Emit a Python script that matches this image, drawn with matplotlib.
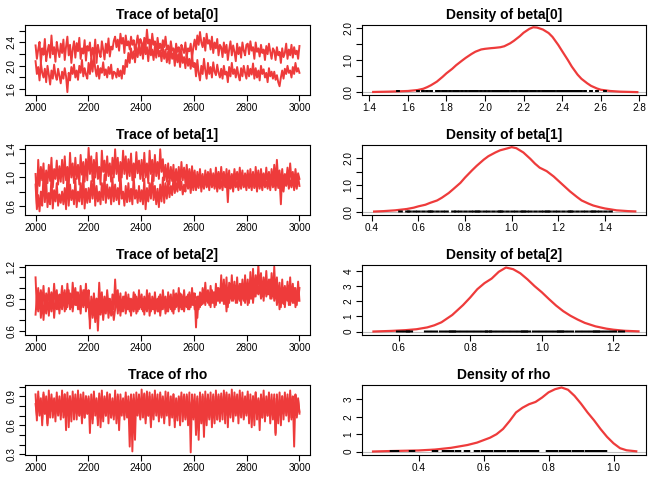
import numpy as np
import matplotlib
matplotlib.use("Agg")
import matplotlib.pyplot as plt

plt.rcParams['font.family'] = ['Liberation Sans', 'DejaVu Sans']

names = ["beta[0]", "beta[1]", "beta[2]", "rho"]

# trace samples in hundredths, two chains per parameter, every 5th iteration (2000..3000)
beta0_a = [235, 212, 228, 241, 205, 230, 219, 246, 208, 225, 236, 214, 252, 220, 232, 207, 241, 226, 215, 238,
           222, 245, 210, 233, 250, 218, 236, 205, 228, 242, 214, 239, 225, 248, 212, 230, 221, 244, 209, 234,
           226, 240, 212, 231, 218, 245, 205, 236, 224, 215, 242, 228, 211, 238, 222, 247, 216, 233, 228, 243,
           250, 232, 245, 226, 255, 238, 248, 222, 252, 235, 242, 228, 250, 236, 244, 225, 238, 252, 230, 246,
           240, 226, 248, 232, 262, 238, 245, 228, 255, 236, 242, 222, 248, 230, 238, 226, 244, 232, 250, 228,
           235, 218, 242, 226, 230, 212, 238, 224, 232, 210, 236, 228, 222, 240, 215, 230, 225, 238, 212, 232,
           245, 228, 252, 236, 258, 240, 232, 248, 226, 255, 238, 244, 228, 250, 222, 240, 230, 246, 218, 236,
           232, 215, 240, 222, 236, 210, 228, 242, 218, 235, 224, 208, 238, 220, 232, 214, 240, 226, 218, 236,
           238, 220, 242, 226, 232, 212, 240, 224, 230, 216, 236, 222, 228, 210, 234, 220, 238, 224, 212, 230,
           226, 210, 232, 218, 224, 205, 230, 215, 222, 238, 212, 228, 218, 236, 214, 232, 220, 226, 212, 234]
beta0_b = [208, 186, 198, 175, 205, 188, 180, 195, 172, 200, 185, 168, 192, 178, 202, 184, 176, 195, 182, 170,
           190, 178, 196, 182, 155, 188, 175, 198, 186, 202, 180, 192, 176, 200, 188, 210, 182, 196, 185, 178,
           205, 186, 212, 190, 218, 195, 182, 200, 178, 196, 188, 206, 184, 194, 180, 198, 186, 202, 178, 190,
           188, 180, 195, 182, 192, 178, 200, 186, 210, 198, 222, 205, 230, 212, 225, 206, 232, 215, 236, 218,
           235, 212, 240, 220, 232, 208, 236, 218, 228, 210, 234, 214, 238, 216, 226, 208, 232, 212, 228, 206,
           225, 204, 230, 212, 222, 200, 228, 206, 220, 198, 224, 205, 215, 196, 222, 200, 212, 195, 218, 198,
           205, 182, 210, 188, 175, 200, 186, 212, 192, 178, 205, 186, 198, 180, 206, 190, 184, 202, 188, 180,
           195, 178, 200, 185, 190, 172, 198, 182, 205, 186, 194, 180, 198, 184, 175, 196, 182, 200, 188, 178,
           200, 182, 195, 185, 204, 178, 196, 180, 192, 175, 200, 186, 194, 180, 188, 172, 196, 182, 190, 178,
           190, 176, 184, 172, 165, 180, 192, 178, 195, 186, 200, 188, 192, 180, 198, 186, 205, 190, 196, 188]

beta1_a = [105, 62, 125, 88, 115, 96, 120, 82, 110, 92, 118, 95, 128, 86, 112, 98, 124, 90, 116, 94,
           125, 92, 130, 96, 115, 86, 135, 100, 120, 92, 128, 98, 118, 90, 132, 104, 122, 94, 126, 96,
           142, 105, 130, 95, 125, 100, 135, 98, 115, 90, 138, 108, 124, 96, 130, 102, 120, 94, 128, 100,
           140, 105, 128, 95, 122, 100, 138, 105, 130, 98, 126, 102, 134, 96, 120, 100, 136, 106, 124, 98,
           125, 95, 135, 100, 120, 92, 138, 105, 125, 95, 132, 102, 122, 98, 140, 108, 126, 96, 118, 94,
           120, 90, 115, 95, 118, 88, 112, 92, 115, 90, 122, 96, 114, 92, 118, 94, 112, 90, 116, 92,
           110, 85, 108, 90, 112, 88, 105, 85, 110, 92, 108, 94, 112, 90, 106, 88, 114, 92, 108, 90,
           115, 92, 108, 88, 112, 90, 110, 86, 105, 92, 112, 94, 108, 90, 114, 92, 110, 88, 106, 94,
           110, 88, 112, 90, 108, 85, 115, 92, 110, 88, 112, 94, 106, 90, 114, 92, 108, 88, 112, 90,
           118, 90, 125, 95, 110, 88, 112, 90, 105, 95, 114, 92, 120, 96, 108, 90, 112, 94, 106, 98]
beta1_b = [90, 55, 75, 52, 80, 60, 105, 65, 95, 58, 78, 62, 102, 56, 82, 66, 92, 60, 76, 64,
           80, 62, 85, 55, 104, 60, 90, 68, 82, 62, 98, 58, 80, 66, 92, 62, 106, 56, 84, 64,
           85, 65, 95, 70, 102, 60, 88, 66, 80, 62, 92, 68, 104, 64, 90, 70, 86, 62, 100, 66,
           90, 68, 85, 62, 108, 70, 80, 60, 88, 65, 92, 66, 84, 62, 102, 70, 82, 64, 88, 66,
           82, 62, 98, 55, 85, 66, 92, 70, 104, 68, 88, 62, 84, 58, 90, 66, 100, 64, 92, 70,
           95, 72, 88, 75, 100, 78, 92, 80, 98, 82, 94, 76, 90, 80, 102, 84, 96, 78, 100, 82,
           100, 82, 95, 85, 105, 80, 98, 84, 102, 86, 96, 82, 104, 86, 98, 84, 100, 80, 96, 84,
           95, 82, 100, 86, 98, 65, 102, 84, 96, 80, 100, 86, 94, 82, 98, 84, 102, 86, 96, 82,
           100, 85, 95, 82, 105, 86, 98, 80, 102, 84, 96, 82, 100, 86, 94, 84, 98, 82, 104, 86,
           96, 82, 100, 85, 98, 62, 105, 80, 98, 88, 102, 84, 96, 86, 100, 82, 98, 84, 102, 88]

beta2_a = [110, 80, 100, 82, 98, 85, 102, 80, 95, 85, 100, 84, 96, 82, 104, 86, 98, 80, 94, 88,
           102, 84, 98, 80, 104, 86, 95, 82, 105, 88, 100, 84, 96, 80, 102, 86, 98, 84, 104, 82,
           98, 62, 92, 78, 95, 80, 90, 75, 105, 82, 96, 78, 92, 80, 98, 84, 90, 76, 94, 80,
           108, 85, 98, 80, 95, 78, 92, 82, 96, 80, 94, 78, 90, 82, 96, 80, 92, 78, 98, 82,
           94, 78, 92, 80, 98, 82, 95, 78, 92, 80, 96, 82, 90, 78, 94, 80, 98, 84, 92, 78,
           96, 82, 94, 78, 98, 80, 95, 84, 100, 82, 94, 80, 98, 84, 92, 80, 96, 82, 100, 84,
           95, 63, 92, 80, 96, 84, 100, 86, 105, 88, 98, 84, 102, 86, 96, 82, 104, 88, 100, 86,
           112, 88, 108, 85, 110, 82, 105, 90, 112, 88, 106, 86, 110, 90, 104, 84, 108, 88, 112, 90,
           108, 86, 115, 90, 118, 92, 112, 95, 122, 98, 114, 92, 110, 96, 116, 94, 108, 90, 114, 92,
           120, 92, 110, 88, 105, 82, 108, 85, 102, 90, 106, 84, 110, 88, 104, 86, 100, 84, 106, 88]
beta2_b = [75, 92, 78, 95, 72, 90, 70, 88, 76, 92, 74, 90, 78, 94, 72, 88, 80, 92, 76, 90,
           80, 95, 78, 92, 82, 98, 80, 94, 78, 90, 84, 96, 80, 92, 76, 94, 82, 98, 78, 92,
           82, 70, 88, 72, 85, 68, 90, 60, 85, 75, 88, 70, 84, 76, 90, 72, 86, 74, 82, 70,
           80, 92, 76, 90, 74, 88, 78, 92, 76, 86, 80, 90, 74, 88, 78, 94, 76, 88, 80, 90,
           80, 90, 75, 88, 78, 92, 74, 86, 80, 90, 76, 88, 78, 92, 74, 86, 80, 90, 76, 88,
           78, 92, 80, 88, 76, 94, 82, 90, 78, 95, 80, 92, 78, 88, 82, 94, 80, 90, 84, 95,
           80, 88, 72, 92, 82, 95, 85, 98, 84, 96, 86, 94, 82, 98, 86, 96, 84, 100, 88, 96,
           88, 102, 85, 98, 78, 100, 86, 104, 88, 100, 90, 102, 86, 98, 88, 104, 90, 100, 86, 102,
           84, 102, 90, 105, 86, 100, 92, 108, 94, 102, 90, 104, 88, 106, 92, 100, 94, 108, 90, 104,
           88, 100, 84, 98, 80, 95, 86, 100, 82, 96, 88, 102, 84, 98, 86, 100, 82, 96, 88, 100]

rho_a = [92, 65, 95, 70, 88, 60, 94, 72, 90, 62, 96, 68, 92, 74, 88, 64, 94, 70, 90, 66,
         96, 68, 92, 55, 94, 70, 90, 64, 95, 72, 92, 66, 96, 70, 88, 62, 94, 68, 90, 72,
         90, 52, 92, 66, 95, 70, 88, 60, 93, 68, 96, 64, 90, 70, 94, 62, 92, 68, 88, 66,
         96, 62, 90, 55, 92, 70, 88, 66, 94, 68, 90, 64, 92, 33, 88, 45, 94, 70, 92, 66,
         97, 68, 93, 62, 95, 70, 90, 58, 92, 66, 96, 70, 92, 64, 94, 68, 90, 62, 95, 70,
         94, 60, 90, 68, 92, 58, 88, 65, 90, 70, 94, 64, 92, 66, 90, 60, 94, 32, 92, 68,
         92, 50, 88, 45, 94, 62, 90, 48, 95, 60, 92, 66, 94, 58, 90, 62, 96, 66, 92, 64,
         93, 66, 96, 70, 94, 58, 92, 68, 97, 64, 94, 70, 92, 62, 96, 68, 94, 66, 90, 70,
         95, 62, 92, 66, 90, 60, 94, 70, 88, 55, 92, 68, 96, 64, 90, 70, 94, 62, 92, 66,
         92, 50, 88, 62, 94, 68, 90, 66, 94, 70, 92, 64, 96, 68, 90, 38, 92, 70, 88, 72]
rho_b = [82, 70, 90, 75, 85, 66, 92, 72, 80, 60, 86, 74, 88, 68, 84, 72, 90, 76, 82, 70,
         85, 74, 92, 68, 88, 58, 90, 75, 84, 66, 88, 72, 86, 70, 92, 74, 84, 68, 90, 72,
         88, 72, 85, 62, 92, 75, 86, 66, 90, 58, 84, 72, 88, 70, 86, 74, 92, 68, 84, 70,
         84, 70, 92, 65, 86, 74, 80, 70, 90, 72, 84, 38, 88, 74, 92, 70, 86, 72, 84, 68,
         88, 74, 92, 66, 85, 70, 94, 62, 86, 72, 90, 74, 84, 68, 92, 70, 88, 66, 86, 74,
         90, 68, 84, 72, 92, 64, 86, 70, 88, 60, 90, 74, 86, 68, 92, 72, 84, 70, 88, 66,
         85, 62, 90, 55, 86, 70, 92, 58, 88, 72, 90, 68, 84, 74, 92, 70, 86, 66, 90, 72,
         90, 74, 86, 62, 92, 70, 88, 76, 84, 66, 90, 72, 86, 70, 92, 74, 88, 68, 84, 72,
         92, 70, 86, 58, 90, 72, 94, 66, 86, 74, 90, 68, 88, 72, 84, 70, 92, 74, 86, 70,
         88, 52, 92, 70, 86, 60, 90, 72, 84, 75, 88, 70, 92, 66, 86, 72, 90, 68, 86, 74]

# density curves
beta0_dx = [1.42, 1.50, 1.55, 1.60, 1.65, 1.68, 1.70, 1.72, 1.75, 1.78, 1.80, 1.83, 1.85, 1.88,
            1.90, 1.93, 1.95, 1.98, 2.00, 2.03, 2.05, 2.08, 2.10, 2.13, 2.15, 2.18, 2.20, 2.23,
            2.25, 2.27, 2.30, 2.33, 2.35, 2.38, 2.40, 2.43, 2.45, 2.48, 2.50, 2.53, 2.55, 2.58,
            2.60, 2.65, 2.70, 2.79]
beta0_dy = [0.01, 0.02, 0.03, 0.04, 0.07, 0.11, 0.16, 0.22, 0.33, 0.48, 0.59, 0.73, 0.84, 0.98,
            1.07, 1.19, 1.26, 1.33, 1.35, 1.37, 1.38, 1.40, 1.43, 1.52, 1.60, 1.74, 1.85, 1.97,
            2.02, 2.01, 1.95, 1.84, 1.72, 1.47, 1.28, 1.00, 0.80, 0.55, 0.42, 0.28, 0.20, 0.12,
            0.08, 0.04, 0.02, 0.005]
beta1_dx = [0.41, 0.45, 0.50, 0.55, 0.58, 0.60, 0.63, 0.65, 0.68, 0.70, 0.73, 0.75, 0.78, 0.80,
            0.83, 0.85, 0.88, 0.90, 0.93, 0.95, 0.98, 1.00, 1.02, 1.05, 1.08, 1.10, 1.12, 1.15,
            1.18, 1.20, 1.23, 1.25, 1.28, 1.30, 1.33, 1.35, 1.38, 1.40, 1.45, 1.50, 1.53]
beta1_dy = [0.005, 0.02, 0.05, 0.10, 0.15, 0.20, 0.26, 0.33, 0.42, 0.52, 0.70, 0.85, 1.08, 1.28,
            1.55, 1.72, 1.95, 2.08, 2.22, 2.30, 2.37, 2.42, 2.38, 2.22, 1.98, 1.80, 1.65, 1.52,
            1.32, 1.16, 0.92, 0.76, 0.55, 0.42, 0.30, 0.23, 0.16, 0.12, 0.05, 0.02, 0.01]
beta2_dx = [0.53, 0.58, 0.62, 0.65, 0.68, 0.70, 0.72, 0.75, 0.78, 0.80, 0.82, 0.84, 0.86, 0.88,
            0.90, 0.92, 0.94, 0.96, 0.98, 1.00, 1.02, 1.04, 1.06, 1.08, 1.10, 1.12, 1.15, 1.18,
            1.20, 1.23, 1.27]
beta2_dy = [0.01, 0.05, 0.10, 0.16, 0.28, 0.42, 0.62, 1.10, 1.75, 2.25, 2.80, 3.20, 3.50, 3.95,
            4.23, 4.12, 3.85, 3.45, 3.00, 2.60, 2.15, 1.72, 1.35, 1.05, 0.80, 0.58, 0.35, 0.20,
            0.13, 0.06, 0.02]
rho_dx = [0.26, 0.30, 0.35, 0.40, 0.45, 0.50, 0.55, 0.58, 0.60, 0.62, 0.64, 0.66, 0.68, 0.70,
          0.72, 0.74, 0.76, 0.78, 0.80, 0.82, 0.84, 0.86, 0.88, 0.90, 0.92, 0.94, 0.96, 0.98,
          1.00, 1.02, 1.04, 1.07]
rho_dy = [0.01, 0.03, 0.05, 0.07, 0.12, 0.22, 0.38, 0.52, 0.66, 0.80, 1.00, 1.30, 1.75, 2.25,
          2.52, 2.72, 2.85, 3.10, 3.40, 3.58, 3.68, 3.55, 3.20, 2.75, 2.25, 1.80, 1.30, 0.85,
          0.48, 0.20, 0.08, 0.02]

chains = [(beta0_a, beta0_b), (beta1_a, beta1_b), (beta2_a, beta2_b), (rho_a, rho_b)]
dens = [(beta0_dx, beta0_dy), (beta1_dx, beta1_dy), (beta2_dx, beta2_dy), (rho_dx, rho_dy)]

trace_ylim = [(1.50, 2.70), (0.468, 1.461), (0.559, 1.216), (0.293, 1.017)]
trace_ticks = [np.arange(1.6, 2.61, 0.2), np.arange(0.6, 1.41, 0.2),
               np.arange(0.6, 1.21, 0.1), np.arange(0.3, 1.01, 0.1)]
trace_lab = [[1.6, 2.0, 2.4], [0.6, 1.0, 1.4], [0.6, 0.9, 1.2], [0.3, 0.6, 0.9]]
dens_xlim = [(1.362, 2.835), (0.358, 1.576), (0.498, 1.291), (0.226, 1.100)]
dens_ylim = [(-0.084, 2.09), (-0.125, 2.5), (-0.22, 4.396), (-0.191, 3.822)]
dens_yticks = [np.arange(0, 2.01, 0.5), np.arange(0, 2.01, 0.5), np.arange(0, 5), np.arange(0, 4)]
dens_ylab = [[0.0, 1.0, 2.0], [0.0, 1.0, 2.0], [0, 1, 2, 3, 4], [0, 1, 2, 3]]
dens_xticks = [np.arange(1.4, 2.81, 0.2), np.arange(0.4, 1.41, 0.2),
               np.arange(0.6, 1.21, 0.2), np.arange(0.4, 1.01, 0.2)]

red = '#EE3B3B'
W, H = 672, 480
fig = plt.figure(figsize=(6.72, 4.8), dpi=100)


def fmt(v, labs, dec):
    for l in labs:
        if abs(v - l) < 1e-6:
            return ("%." + str(dec) + "f") % v
    return ""


def style(ax):
    for s in ax.spines.values():
        s.set_linewidth(0.8)
    ax.tick_params(length=4, width=0.8, labelsize=7.2, pad=2)
    for lab in ax.get_yticklabels():
        lab.set_rotation(90)
        lab.set_va('center')


for i in range(4):
    top = 25 + 120 * i
    bottom = 1 - (top + 70) / H
    # trace
    ax = fig.add_axes([25 / W, bottom, 285 / W, 70 / H])
    it = np.linspace(2000, 3000, len(chains[i][0]))
    for ch in chains[i]:
        ax.plot(it, np.array(ch) / 100, color=red, lw=1.4)
    ax.set_xlim(1960, 3040)
    ax.set_ylim(*trace_ylim[i])
    ax.set_xticks(np.arange(2000, 3001, 200))
    ax.set_yticks(trace_ticks[i])
    ax.set_yticklabels([fmt(v, trace_lab[i], 1) for v in trace_ticks[i]])
    ax.set_title("Trace of " + names[i], fontsize=10, fontweight='bold', pad=4)
    style(ax)

    # density
    ax = fig.add_axes([362 / W, bottom, 284 / W, 70 / H])
    dx, dy = dens[i]
    ax.axhline(0, color='#BEBEBE', lw=0.8)
    ax.plot(dx, dy, color=red, lw=1.6)
    # rug of the samples; tick width covers the 0.02 spacing of the stored values
    samples = np.unique(np.concatenate(chains[i])) / 100
    xl = dens_xlim[i]
    rug_w = 0.02 * 284 / (xl[1] - xl[0]) * 0.72
    ax.vlines(samples, 0, max(dy) / 35, color='black', lw=rug_w)
    ax.set_xlim(*xl)
    ax.set_ylim(*dens_ylim[i])
    ax.set_xticks(dens_xticks[i])
    ax.set_xticklabels(["%.1f" % v for v in dens_xticks[i]])
    ax.set_yticks(dens_yticks[i])
    dec = 1 if i < 2 else 0
    ax.set_yticklabels([fmt(v, dens_ylab[i], dec) for v in dens_yticks[i]])
    ax.set_title("Density of " + names[i], fontsize=10, fontweight='bold', pad=4)
    style(ax)

fig.savefig("out.png", dpi=100)
